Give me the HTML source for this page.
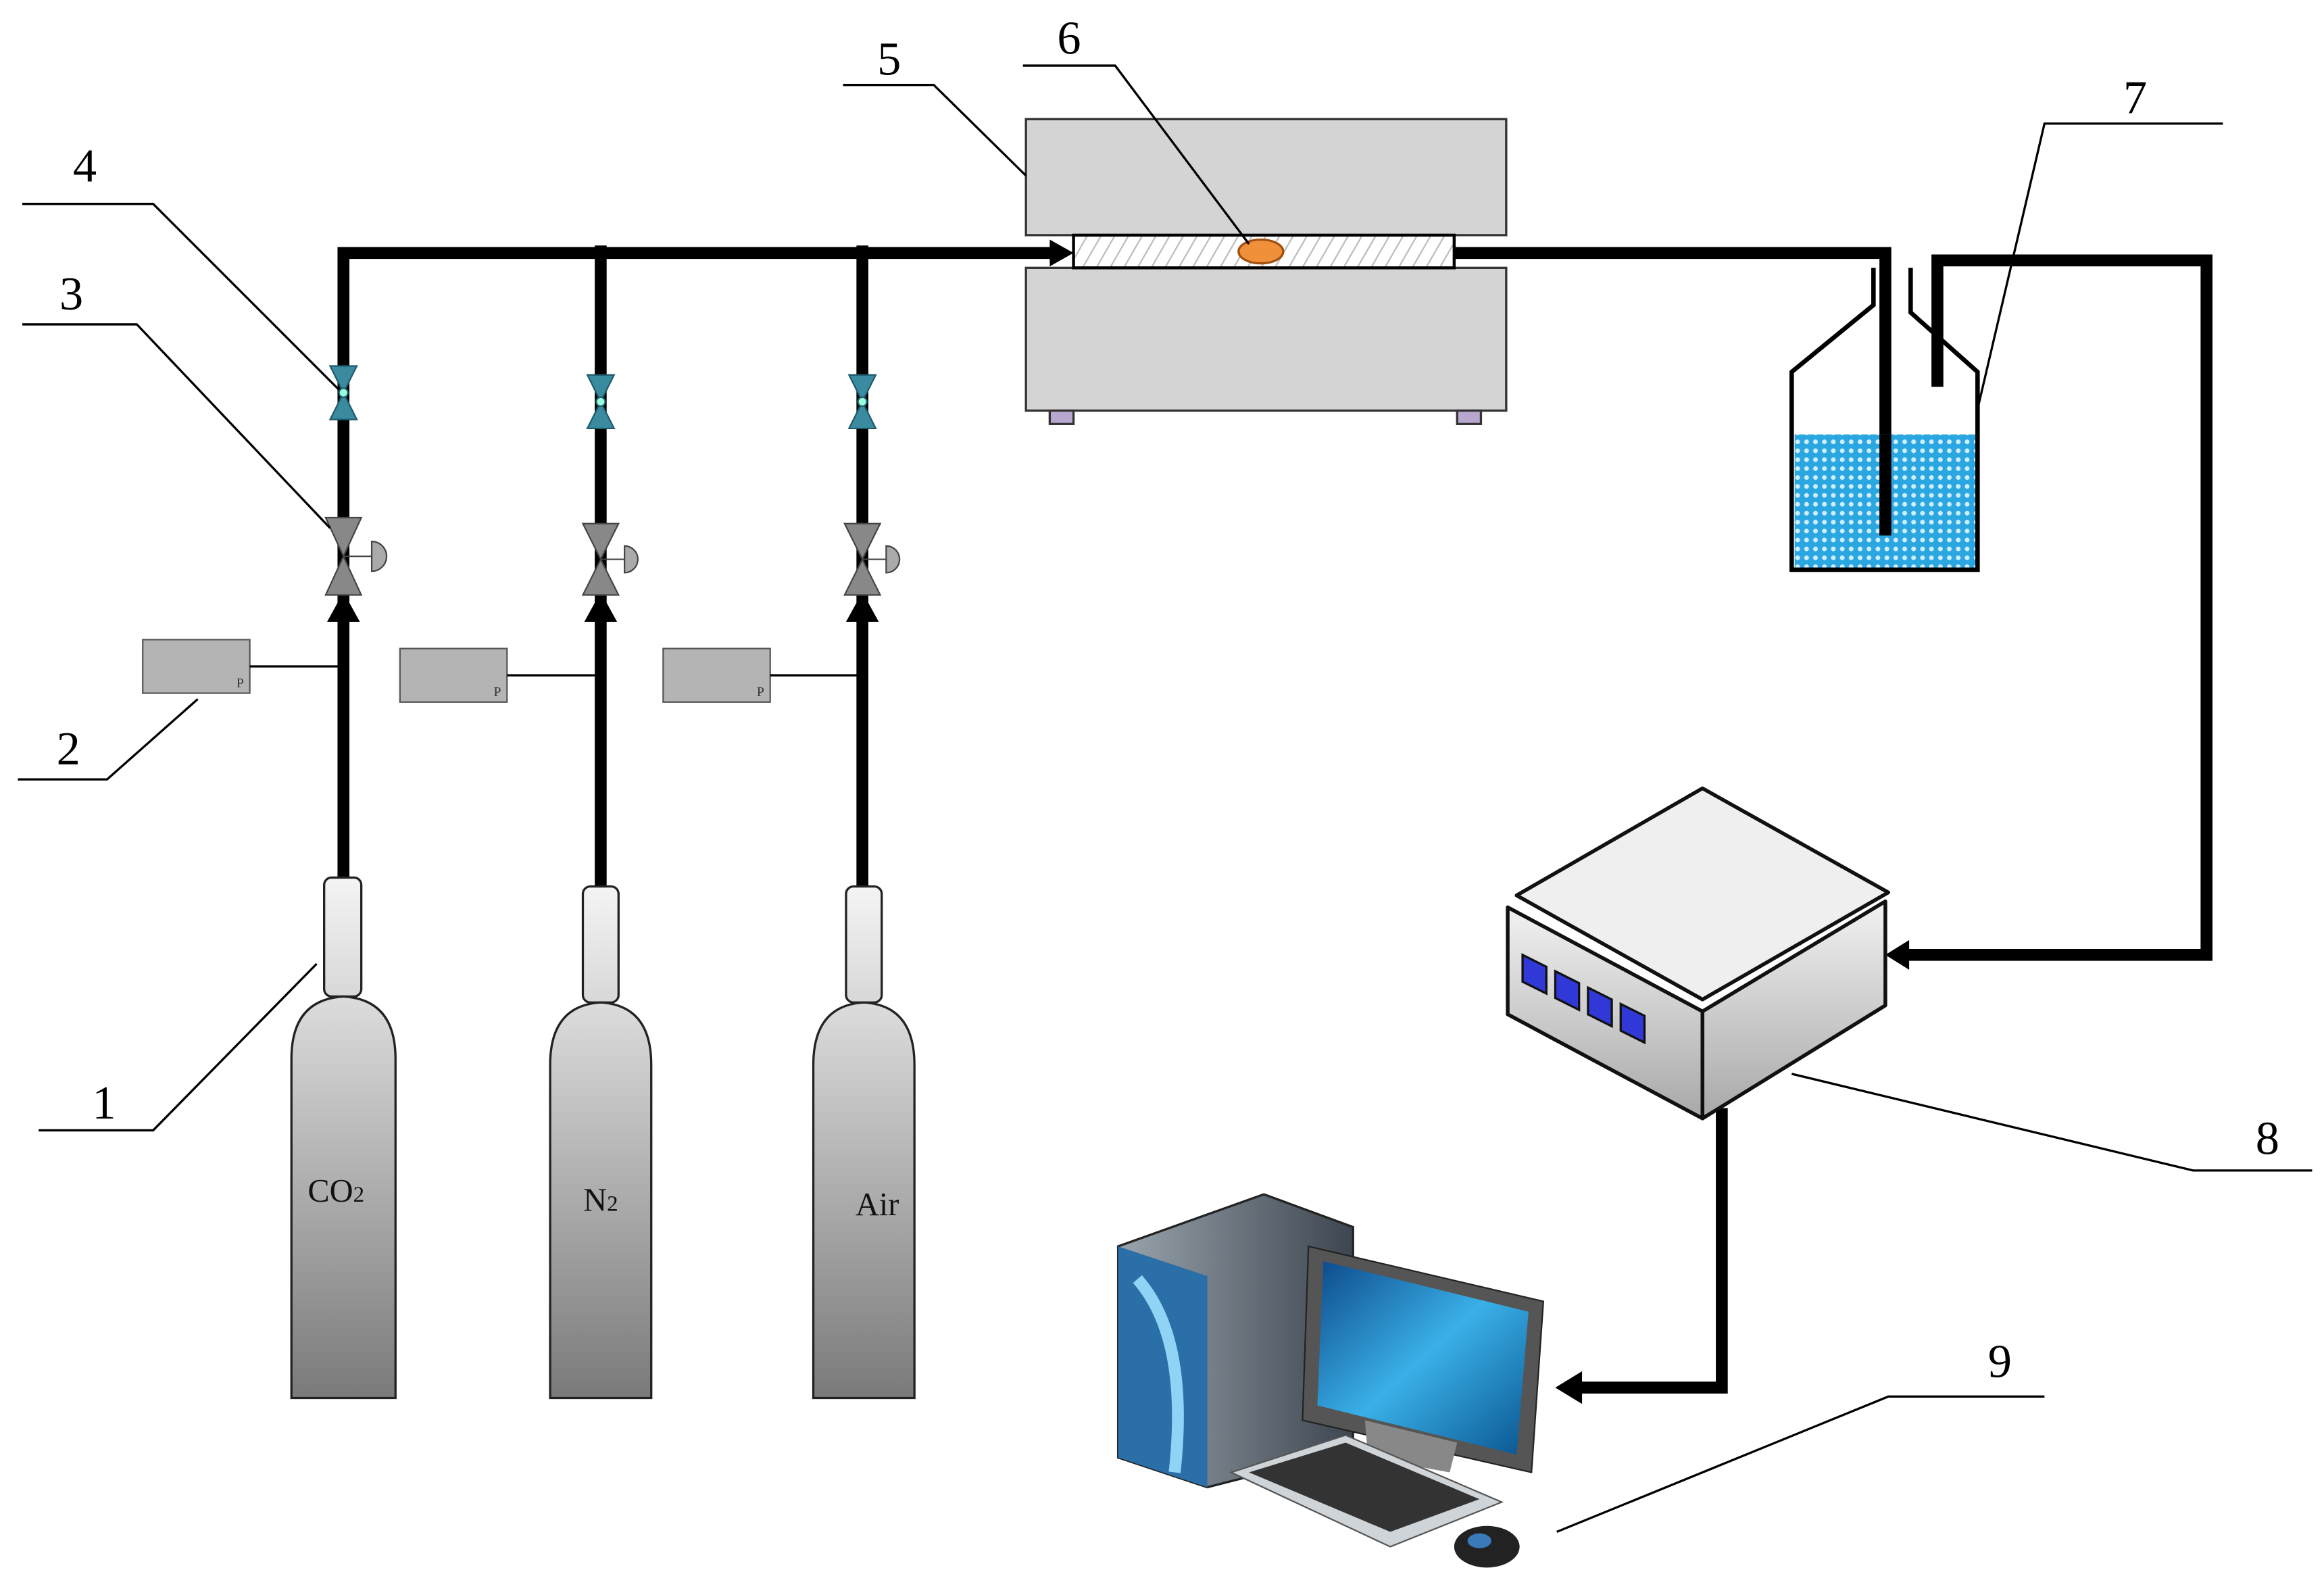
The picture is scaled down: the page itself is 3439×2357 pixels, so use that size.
<!DOCTYPE html>
<html><head><meta charset="utf-8"><style>html,body{margin:0;padding:0;background:#fff}svg{display:block}</style></head>
<body>
<svg width="3439" height="2357" viewBox="0 0 1563 1071" xmlns="http://www.w3.org/2000/svg" font-family="Liberation Serif, serif">
<defs>
<linearGradient id="cyl" x1="0" y1="0" x2="0" y2="1"><stop offset="0" stop-color="#dcdcdc"/><stop offset="1" stop-color="#7a7a7a"/></linearGradient>
<linearGradient id="neck" x1="0" y1="0" x2="0" y2="1"><stop offset="0" stop-color="#f4f4f4"/><stop offset="1" stop-color="#d8d8d8"/></linearGradient>
<pattern id="hatch" width="8" height="8" patternUnits="userSpaceOnUse" patternTransform="rotate(30)"><rect width="8" height="8" fill="#fff"/><line x1="0" y1="0" x2="0" y2="8" stroke="#bbb" stroke-width="2"/></pattern>
<pattern id="dots" width="6" height="6" patternUnits="userSpaceOnUse"><rect width="6" height="6" fill="#2aa6e0"/><circle cx="3" cy="3" r="1.6" fill="#cfeeff"/></pattern>
<linearGradient id="box" x1="0" y1="0" x2="0" y2="1"><stop offset="0" stop-color="#f2f2f2"/><stop offset="1" stop-color="#a8a8a8"/></linearGradient>
<linearGradient id="scr" x1="0" y1="0" x2="1" y2="1"><stop offset="0" stop-color="#0d4a8a"/><stop offset=".5" stop-color="#3ab0e8"/><stop offset="1" stop-color="#0a5590"/></linearGradient>
<linearGradient id="tow" x1="0" y1="0" x2="1" y2="0"><stop offset="0" stop-color="#9aa4ac"/><stop offset="1" stop-color="#3d4650"/></linearGradient>
</defs>

<!-- pipes -->
<g stroke="#000" stroke-width="8" fill="none">
<path d="M231 600 V170 H712"/>
<path d="M404 600 V165"/>
<path d="M580 600 V165"/>
<path d="M978 170 H1268 V360"/>
<path d="M1303 260 V175 H1484 V642 H1282"/>
<path d="M1158 745 V933 H1062"/>
</g>
<g fill="#000">
<polygon points="722,170 706,161 706,179"/>
<polygon points="1268,642 1284,632 1284,652"/>
<polygon points="1046,933 1064,922 1064,944"/>
<polygon points="231,398 220,418 242,418"/>
<polygon points="404,398 393,418 415,418"/>
<polygon points="580,398 569,418 591,418"/>
</g>

<!-- valves -->
<g id="v">
</g>
<g fill="#3a8aa0" stroke="#1c5a6a" stroke-width="1">
<polygon points="222,246 240,246 231,264"/><polygon points="222,282 240,282 231,264"/><circle cx="231" cy="264" r="3" fill="#9fd"/>
<polygon points="395,252 413,252 404,270"/><polygon points="395,288 413,288 404,270"/><circle cx="404" cy="270" r="3" fill="#9fd"/>
<polygon points="571,252 589,252 580,270"/><polygon points="571,288 589,288 580,270"/><circle cx="580" cy="270" r="3" fill="#9fd"/>
</g>
<g fill="#888" stroke="#444" stroke-width="1">
<polygon points="219,348 243,348 231,374"/><polygon points="219,400 243,400 231,374"/>
<line x1="231" y1="374" x2="250" y2="374"/><path d="M250 364 A10 10 0 0 1 250 384 Z" fill="#aaa"/>
<polygon points="392,352 416,352 404,376"/><polygon points="392,400 416,400 404,376"/>
<line x1="404" y1="376" x2="420" y2="376"/><path d="M420 367 A9 9 0 0 1 420 385 Z" fill="#aaa"/>
<polygon points="568,352 592,352 580,376"/><polygon points="568,400 592,400 580,376"/>
<line x1="580" y1="376" x2="596" y2="376"/><path d="M596 367 A9 9 0 0 1 596 385 Z" fill="#aaa"/>
</g>

<!-- gauges -->
<g fill="#b4b4b4" stroke="#555" stroke-width="1">
<rect x="96" y="430" width="72" height="36"/><rect x="269" y="436" width="72" height="36"/><rect x="446" y="436" width="72" height="36"/>
</g>
<g stroke="#000" stroke-width="1.5"><line x1="168" y1="448" x2="231" y2="448"/><line x1="341" y1="454" x2="404" y2="454"/><line x1="518" y1="454" x2="580" y2="454"/></g>
<g font-size="9" fill="#333"><text x="159" y="462">P</text><text x="332" y="468">P</text><text x="509" y="468">P</text></g>

<!-- cylinders -->
<g stroke="#222" stroke-width="1.5">
<rect x="218" y="590" width="25" height="80" rx="5" fill="url(#neck)"/>
<path d="M196 940 V712 Q196 672 231 670 Q266 672 266 712 V940 Z" fill="url(#cyl)"/>
<rect x="392" y="596" width="24" height="78" rx="5" fill="url(#neck)"/>
<path d="M370 940 V716 Q370 676 404 674 Q438 676 438 716 V940 Z" fill="url(#cyl)"/>
<rect x="569" y="596" width="24" height="78" rx="5" fill="url(#neck)"/>
<path d="M547 940 V716 Q547 676 581 674 Q615 676 615 716 V940 Z" fill="url(#cyl)"/>
</g>
<g font-size="22" fill="#111" text-anchor="middle">
<text x="226" y="808">CO<tspan font-size="15">2</tspan></text>
<text x="404" y="814">N<tspan font-size="15">2</tspan></text>
<text x="590" y="817">Air</text>
</g>

<!-- furnace -->
<g stroke="#333" stroke-width="1.5">
<rect x="690" y="80" width="323" height="78" fill="#d4d4d4"/>
<rect x="690" y="180" width="323" height="96" fill="#d4d4d4"/>
<rect x="706" y="276" width="16" height="9" fill="#b8a8d0"/>
<rect x="980" y="276" width="16" height="9" fill="#b8a8d0"/>
<rect x="722" y="158" width="256" height="22" fill="url(#hatch)" stroke="#000" stroke-width="2"/>
<ellipse cx="848" cy="169" rx="15" ry="8" fill="#f0903a" stroke="#a05010"/>
</g>

<!-- bottle -->
<rect x="1207" y="292" width="122" height="90" fill="url(#dots)"/>
<path d="M1260 180 V205 L1205 250 V383 H1330 V250 L1285 210 V180" fill="none" stroke="#000" stroke-width="3"/>
<g stroke="#000" stroke-width="8"><line x1="1268" y1="292" x2="1268" y2="360"/></g>

<!-- device 8 -->
<g stroke="#111" stroke-width="2.5" stroke-linejoin="round">
<polygon points="1020,602 1145,530 1270,600 1145,672" fill="#efefef"/>
<polygon points="1014,610 1145,680 1145,752 1014,682" fill="url(#box)"/>
<polygon points="1145,680 1268,606 1268,676 1145,752" fill="url(#box)"/>
</g>
<g fill="#3038d8" stroke="#111" stroke-width="1.5">
<polygon points="1024,642 1040,650 1040,668 1024,660"/>
<polygon points="1046,653 1062,661 1062,679 1046,671"/>
<polygon points="1068,664 1084,672 1084,690 1068,682"/>
<polygon points="1090,675 1106,683 1106,701 1090,693"/>
</g>

<!-- computer 9 -->
<g>
<polygon points="752,838 850,803 910,825 910,975 812,1000 752,980" fill="url(#tow)" stroke="#222" stroke-width="1.5"/>
<polygon points="752,838 812,858 812,1000 752,980" fill="#2a6fa8"/>
<path d="M765 860 Q800 900 790 990" stroke="#8fd4f5" stroke-width="8" fill="none"/>
<polygon points="880,838 1038,875 1030,990 876,955" fill="#555" stroke="#222"/>
<polygon points="890,848 1028,882 1020,978 886,945" fill="url(#scr)"/>
<polygon points="918,955 980,970 975,990 920,980" fill="#888"/>
<polygon points="828,990 905,965 1010,1010 935,1040" fill="#cfd4d8" stroke="#555"/>
<polygon points="840,990 905,970 995,1008 935,1030" fill="#333"/>
<ellipse cx="1000" cy="1040" rx="22" ry="14" fill="#222"/>
<ellipse cx="995" cy="1036" rx="8" ry="5" fill="#3a7ab8"/>
</g>

<!-- leaders -->
<g stroke="#000" stroke-width="1.5" fill="none">
<path d="M567 57 H628 L690 118"/>
<path d="M688 44 H750 L840 164"/>
<path d="M15 137 H103 L228 262"/>
<path d="M15 218 H92 L222 355"/>
<path d="M12 524 H72 L133 470"/>
<path d="M26 760 H103 L213 648"/>
<path d="M1495 83 H1375 L1330 275"/>
<path d="M1555 787 H1475 L1205 722"/>
<path d="M1375 939 H1270 L1047 1030"/>
</g>
<g font-size="32" fill="#000" text-anchor="middle">
<text x="598" y="50">5</text><text x="719" y="36">6</text><text x="57" y="122">4</text><text x="48" y="208">3</text>
<text x="46" y="514">2</text><text x="70" y="752">1</text><text x="1436" y="76">7</text><text x="1525" y="776">8</text><text x="1345" y="926">9</text>
</g>
</svg>
</body></html>
